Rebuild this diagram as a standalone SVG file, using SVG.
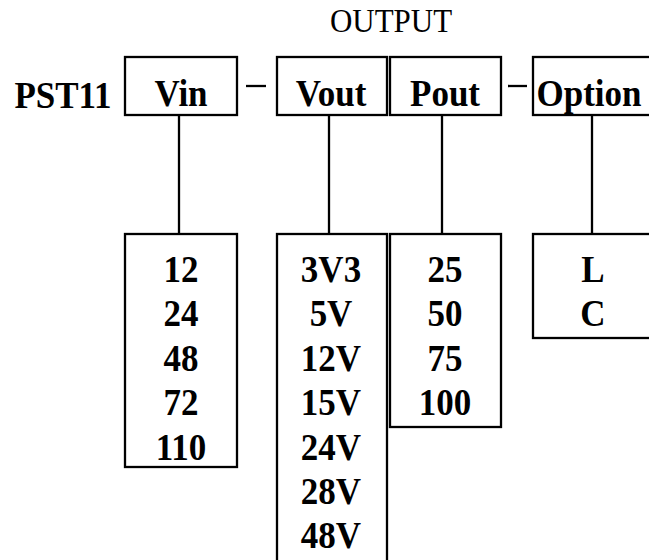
<svg xmlns="http://www.w3.org/2000/svg" width="649" height="560" viewBox="0 0 649 560">
<style>
.box{fill:none;stroke:#000;stroke-width:2.3}
.ln{stroke:#000;stroke-width:2.3;fill:none}
.b{font-family:"Liberation Serif","Times New Roman",serif;font-weight:bold;font-size:35px;fill:#000;text-anchor:middle}
.r{font-family:"Liberation Serif","Times New Roman",serif;font-size:31px;fill:#000;text-anchor:middle}
</style>
<rect width="649" height="560" fill="#fff"/>
<text class="r" transform="translate(391,32) scale(1,1.08)">OUTPUT</text>
<g id="pst11"><text class="b" transform="translate(63,108) scale(1,1.1)">PST11</text></g>
<g id="vin">
<rect class="box" x="125" y="57" width="112" height="58"/>
<text class="b" transform="translate(181,106) scale(1,1.1)">Vin</text>
</g>
<g id="vout">
<rect class="box" x="277" y="57" width="110" height="58"/>
<text class="b" transform="translate(331,106) scale(1,1.1)">Vout</text>
</g>
<g id="pout">
<rect class="box" x="390" y="57" width="111" height="58"/>
<text class="b" transform="translate(445,106) scale(1,1.1)">Pout</text>
</g>
<g id="option">
<rect class="box" x="533" y="57" width="130" height="58"/>
<text class="b" transform="translate(589,106) scale(1,1.1)">Option</text>
</g>
<g id="vin-list">
<rect class="box" x="125" y="234" width="112" height="233"/>
<text class="b" transform="translate(181,282) scale(1,1.1)">12</text>
<text class="b" transform="translate(181,326.4) scale(1,1.1)">24</text>
<text class="b" transform="translate(181,370.8) scale(1,1.1)">48</text>
<text class="b" transform="translate(181,415.2) scale(1,1.1)">72</text>
<text class="b" transform="translate(181,459.6) scale(1,1.1)">110</text>
</g>
<g id="vout-list">
<rect class="box" x="277" y="234" width="110" height="340"/>
<text class="b" transform="translate(331,282) scale(1,1.1)">3V3</text>
<text class="b" transform="translate(331,326.4) scale(1,1.1)">5V</text>
<text class="b" transform="translate(331,370.8) scale(1,1.1)">12V</text>
<text class="b" transform="translate(331,415.2) scale(1,1.1)">15V</text>
<text class="b" transform="translate(331,459.6) scale(1,1.1)">24V</text>
<text class="b" transform="translate(331,504) scale(1,1.1)">28V</text>
<text class="b" transform="translate(331,548.4) scale(1,1.1)">48V</text>
</g>
<g id="pout-list">
<rect class="box" x="390" y="234" width="111" height="193"/>
<text class="b" transform="translate(445,282) scale(1,1.1)">25</text>
<text class="b" transform="translate(445,326.4) scale(1,1.1)">50</text>
<text class="b" transform="translate(445,370.8) scale(1,1.1)">75</text>
<text class="b" transform="translate(445,415.2) scale(1,1.1)">100</text>
</g>
<g id="option-list">
<rect class="box" x="533" y="234" width="130" height="104"/>
<text class="b" transform="translate(593,282) scale(1,1.1)">L</text>
<text class="b" transform="translate(593,326.4) scale(1,1.1)">C</text>
</g>
<g id="connectors">
<line class="ln" x1="179" y1="115" x2="179" y2="234"/>
<line class="ln" x1="329" y1="115" x2="329" y2="234"/>
<line class="ln" x1="442" y1="115" x2="442" y2="234"/>
<line class="ln" x1="592" y1="115" x2="592" y2="234"/>
<line class="ln" x1="246" y1="86" x2="266" y2="86"/>
<line class="ln" x1="508" y1="86" x2="527" y2="86"/>
</g>
</svg>
